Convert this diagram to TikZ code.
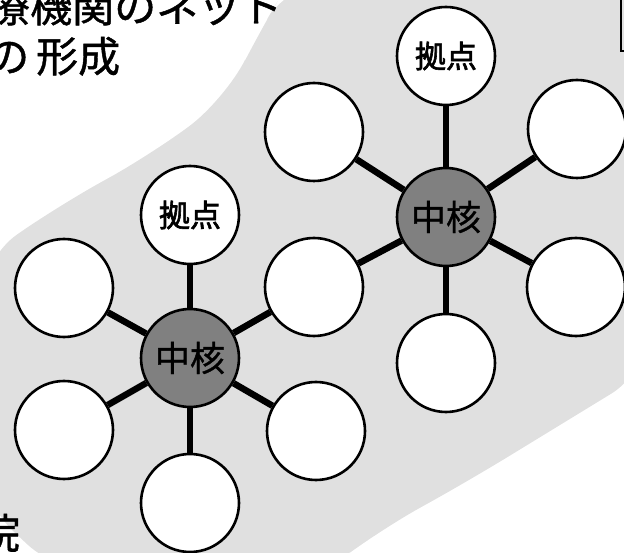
\documentclass[tikz,border=0pt]{standalone}
\usepackage{fontspec}
\newfontfamily\jpfont[FakeBold=1]{Noto Sans CJK JP}
\newfontfamily\jpbold[FakeBold=2]{Noto Sans CJK JP}
\begin{document}
\begin{tikzpicture}[x=1pt,y=-1pt,
  outer/.style={circle,draw,line width=2.6pt,fill=white,minimum size=98pt,inner sep=0pt,
    font=\jpbold\fontsize{31}{31}\selectfont},
  hub/.style={outer,fill=black!50,font=\jpfont\fontsize{35}{35}\selectfont},
  spoke/.style={line width=6.5pt},
  lbl/.style={anchor=base west,inner sep=0pt,font=\jpfont\fontsize{42}{42}\selectfont}]
\useasboundingbox (0,0) rectangle (624,553);
% speckled background band
\fill[black!12, rounded corners=45pt]
  (290,-20) -- (650,-20) -- (650,370) -- (560,425) -- (470,480) -- (380,530) -- (320,575)
  -- (60,575) -- (-20,500) -- (-20,260) -- (60,205) -- (150,155) -- (225,100) -- (255,40) -- cycle;
% frame at top right
\draw[line width=2.5pt] (621,-10) rectangle (660,51);
% title texts
\node[lbl] (t1) at (-12,22) {療機関のネット};
\node[lbl] (t2) at (-13,72) {の\kern7pt 形成};
\node[lbl] (t3) at (-22,549) {院};
% left cluster
\node[hub]   (lh)  at (190,358) {中核};
\node[outer] (lt)  at (190,215) {拠点};
\node[outer] (lb)  at (190,503) {};
\node[outer] (lul) at (64,288) {};
\node[outer] (lll) at (64,430) {};
\node[outer] (llr) at (316,431) {};
\node[outer] (sh)  at (314,287) {};
% right cluster
\node[hub]   (rh)  at (446,217) {中核};
\node[outer] (rt)  at (446,56) {拠点};
\node[outer] (rb)  at (446,363) {};
\node[outer] (rul) at (314,132) {};
\node[outer] (rur) at (577,129) {};
\node[outer] (rlr) at (576,287) {};
% spokes
\foreach \a in {lt,lb,lul,lll,llr,sh} \draw[spoke] (lh) -- (\a);
\foreach \a in {rt,rb,rul,rur,rlr,sh} \draw[spoke] (rh) -- (\a);
\end{tikzpicture}
\end{document}
